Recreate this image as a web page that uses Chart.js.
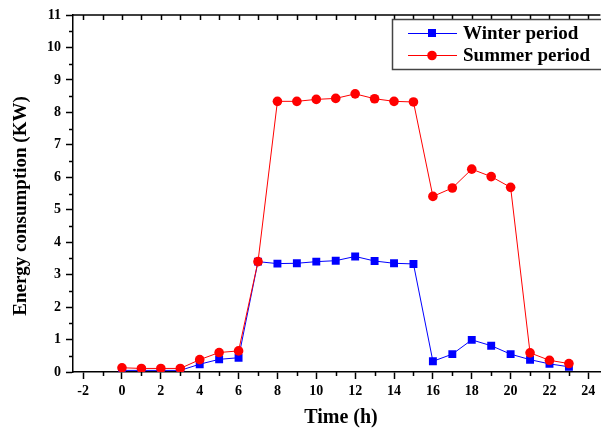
<!DOCTYPE html>
<html>
<head>
<meta charset="utf-8">
<script src="https://cdn.jsdelivr.net/npm/chart.js@4.4.1/dist/chart.umd.min.js"></script>
<style>
  html, body { margin: 0; padding: 0; background: #fff; overflow: hidden; }
  canvas { display: block; }
</style>
</head>
<body>
<canvas id="chart" width="606" height="433"></canvas>
<script>
// ── DATA ───────────────────────────────────────────────────────
const hours  = [0, 1, 2, 3, 4, 5, 6, 7, 8, 9, 10, 11, 12, 13, 14, 15, 16, 17, 18, 19, 20, 21, 22, 23];
const winter = [0.05, 0.05, 0.05, 0.05, 0.24, 0.39, 0.44, 3.40, 3.34, 3.35, 3.40, 3.43, 3.56, 3.42, 3.35, 3.33,
                0.33, 0.55, 0.99, 0.81, 0.55, 0.38, 0.25, 0.16];
const summer = [0.13, 0.11, 0.11, 0.11, 0.38, 0.60, 0.65, 3.40, 8.34, 8.34, 8.40, 8.43, 8.57, 8.42, 8.34, 8.32,
                5.41, 5.67, 6.25, 6.02, 5.69, 0.59, 0.36, 0.26];
const seriesNames = ['Winter period', 'Summer period'];
const xTicks = [-2, 0, 2, 4, 6, 8, 10, 12, 14, 16, 18, 20, 22, 24];
const yTicks = [0, 1, 2, 3, 4, 5, 6, 7, 8, 9, 10, 11];
const xTitle = 'Time (h)';
const yTitle = 'Energy consumption (KW)';

const SERIF = "'Liberation Serif', 'Times New Roman', serif";
const BLUE = '#0000ff';
const RED = '#ff0000';

const toPoints = vals => hours.map((h, i) => ({ x: h, y: vals[i] }));

// ── AXIS EXTRAS + LEGEND ───────────────────────────────────────
// minor ticks, inward ticks on the top frame, axis titles, legend box (Origin style)
const originDecor = {
  id: 'originDecor',
  afterDraw(chart) {
    const { ctx, chartArea: a, scales: { x, y } } = chart;
    ctx.save();
    ctx.strokeStyle = '#000';
    ctx.lineWidth = 1.5;
    ctx.beginPath();
    ctx.moveTo(a.left, a.top);
    ctx.lineTo(a.right, a.top);
    for (let v = -2; v <= 25; v++) {
      const px = Math.round(x.getPixelForValue(v)) + 0.5;
      if (px < a.left || px > a.right) continue;
      if (v % 2 !== 0) {
        ctx.moveTo(px, a.bottom);
        ctx.lineTo(px, a.bottom + 4);
      }
      ctx.moveTo(px, a.top);
      ctx.lineTo(px, a.top + 5);
    }
    for (let v = 0.5; v < 11; v += 1) {
      const py = Math.round(y.getPixelForValue(v)) + 0.5;
      ctx.moveTo(a.left, py);
      ctx.lineTo(a.left - 4, py);
    }
    ctx.stroke();

    // axis titles (placed as in the original, slightly off the axis centres)
    ctx.fillStyle = '#000';
    ctx.textAlign = 'center';
    ctx.textBaseline = 'middle';
    ctx.font = `bold 20px ${SERIF}`;
    ctx.fillText(xTitle, 341, 418);
    ctx.save();
    ctx.translate(21, 206);
    ctx.rotate(-Math.PI / 2);
    ctx.font = `bold 19px ${SERIF}`;
    ctx.fillText(yTitle, 0, 0);
    ctx.restore();

    // legend
    ctx.strokeStyle = '#444';
    ctx.lineWidth = 1.5;
    ctx.strokeRect(392.5, 19.5, 240, 50);
    const rows = [33, 55];
    chart.data.datasets.forEach((ds, i) => {
      const yy = rows[i];
      ctx.strokeStyle = ds.borderColor;
      ctx.lineWidth = 1;
      ctx.beginPath();
      ctx.moveTo(408, yy + 0.5);
      ctx.lineTo(457, yy + 0.5);
      ctx.stroke();
      ctx.fillStyle = ds.backgroundColor;
      if (ds.pointStyle === 'rect') {
        ctx.fillRect(428, yy - 4, 8, 8);
      } else {
        ctx.beginPath();
        ctx.arc(432, yy + 0.5, 4.8, 0, Math.PI * 2);
        ctx.fill();
      }
      ctx.fillStyle = '#000';
      ctx.font = `bold 19px ${SERIF}`;
      ctx.textBaseline = 'middle';
      ctx.textAlign = 'left';
      ctx.fillText(ds.label, 463, yy + 1);
    });
    ctx.restore();
  }
};

// ── CHART ──────────────────────────────────────────────────────
new Chart(document.getElementById('chart'), {
  type: 'line',
  data: {
    datasets: [
      {
        label: seriesNames[0],
        data: toPoints(winter),
        borderColor: BLUE,
        backgroundColor: BLUE,
        borderWidth: 1,
        pointStyle: 'rect',
        pointRadius: 5.6,
        pointBorderWidth: 0,
        order: 1,
      },
      {
        label: seriesNames[1],
        data: toPoints(summer),
        borderColor: RED,
        backgroundColor: RED,
        borderWidth: 1,
        pointStyle: 'circle',
        pointRadius: 4.8,
        pointBorderWidth: 0,
        order: 0,
      },
    ],
  },
  options: {
    responsive: false,
    animation: false,
    devicePixelRatio: 1,
    layout: { padding: { top: 15, right: 0, left: 0, bottom: 0 } },
    plugins: {
      legend: { display: false },
      tooltip: { enabled: false },
    },
    scales: {
      x: {
        type: 'linear',
        min: -2.52,
        max: 24.62,
        afterBuildTicks: s => { s.ticks = xTicks.map(v => ({ value: v })); },
        afterFit: s => { s.height = 61; },
        grid: { drawOnChartArea: false, drawTicks: true, tickLength: 7, tickColor: '#000', tickWidth: 1.5 },
        border: { display: true, color: '#000', width: 1.5 },
        ticks: { color: '#000', padding: 4, maxRotation: 0, autoSkip: false, font: { family: SERIF, size: 14, weight: 'bold' } },
      },
      y: {
        min: 0,
        max: 11,
        afterBuildTicks: s => { s.ticks = yTicks.map(v => ({ value: v })); },
        afterFit: s => { s.width = 73; },
        grid: { drawOnChartArea: false, drawTicks: true, tickLength: 7, tickColor: '#000', tickWidth: 1.5 },
        border: { display: true, color: '#000', width: 1.5 },
        ticks: { color: '#000', padding: 5, font: { family: SERIF, size: 14, weight: 'bold' } },
      },
    },
  },
  plugins: [originDecor],
});
</script>
</body>
</html>
